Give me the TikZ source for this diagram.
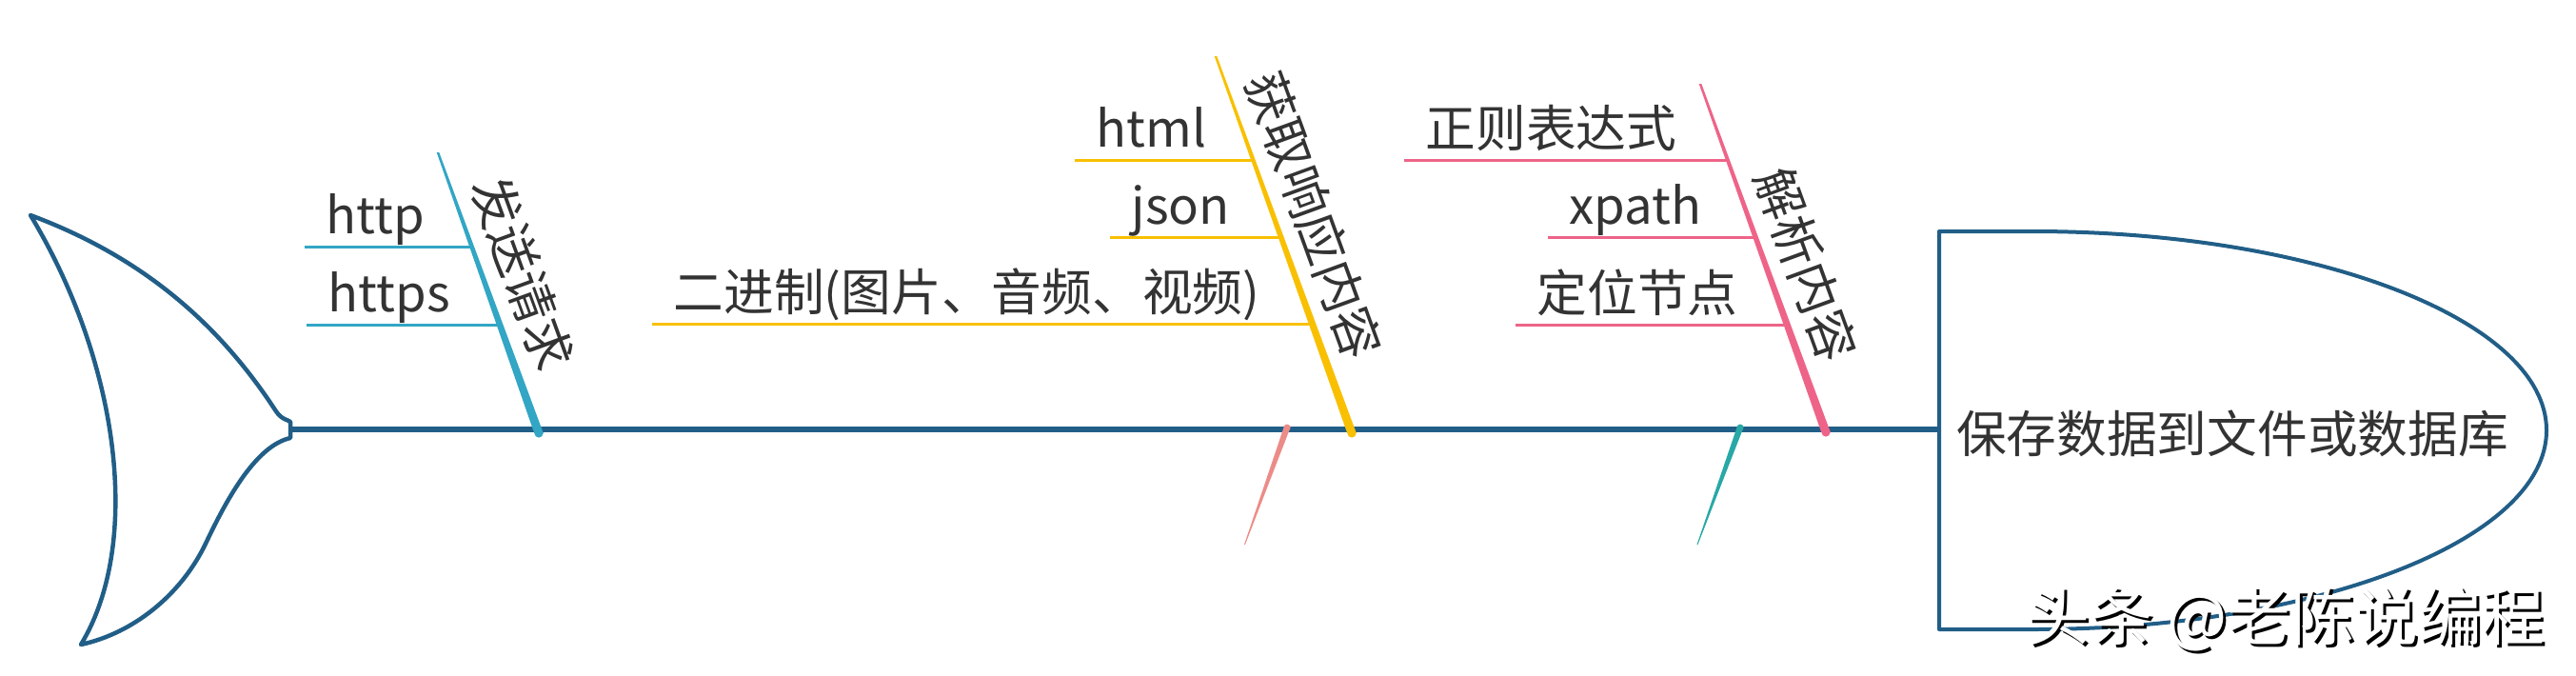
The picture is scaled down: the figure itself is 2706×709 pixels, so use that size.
\documentclass[tikz,border=0pt]{standalone}
\usepackage{fontspec}
\setmainfont{Noto Sans CJK SC}
\definecolor{spinec}{RGB}{33,94,135}
\definecolor{bblue}{RGB}{50,166,196}
\definecolor{byellow}{RGB}{248,192,0}
\definecolor{bpink}{RGB}{238,100,136}
\definecolor{spink}{RGB}{236,140,136}
\definecolor{steal}{RGB}{40,168,166}
\definecolor{txt}{RGB}{51,51,51}
\tikzset{
  fishline/.style={draw=spinec,line width=0.45mm,line join=round,line cap=round},
  spineline/.style={draw=spinec,line width=0.65mm},
  subline/.style={line width=0.3mm},
  itemtext/.style={anchor=base west,inner sep=0pt,text=txt,font=\fontsize{15}{18}\selectfont},
  cattext/.style={rotate=-70,inner sep=0pt,text=txt,font=\fontsize{15}{18}\selectfont},
}
\begin{document}
\begin{tikzpicture}[x=0.1mm,y=-0.1mm]
\useasboundingbox (0,0) rectangle (2706,709);
% tail
\draw[fishline] (32,226) .. controls (150,270) and (230,340) .. (290,432)
  .. controls (296,441) and (303,441) .. (305,443) -- (305,460)
  .. controls (270,468) and (240,520) .. (216,571)
  .. controls (190,625) and (140,665) .. (85,677)
  .. controls (150,570) and (125,380) .. (32,226) -- cycle;
% head
\draw[fishline,line width=0.4mm] (2037,451) -- (2037,243) -- (2135,243)
  .. controls (2433,243) and (2675,336.6) .. (2675,452)
  .. controls (2675,567.4) and (2433,661) .. (2135,661) -- (2037,661) -- cycle;
\node[inner sep=0pt,text=txt,font=\fontsize{15}{18}\selectfont] (head) at (2345,455) {保存数据到文件或数据库};
% spine
\coordinate (tailjoin) at (305,451);
\coordinate (headjoin) at (2037,451);
\draw[spineline] (tailjoin) -- (headjoin);
% small lower branches
\fill[spink] (1348.5,449) -- (1355.5,449) -- (1308,572) -- (1307,572) -- cycle;
\fill[spink] (1352,449) circle (3.5);
\fill[steal] (1824.5,449) -- (1831.5,449) -- (1783.5,572) -- (1782.5,572) -- cycle;
\fill[steal] (1828,449) circle (3.5);
% branch 1 (blue)
\fill[bblue] (458.7,160) -- (461.3,160) -- (570.8,455) -- (561.2,455) -- cycle;
\fill[bblue] (566,455) circle (4.6);
\draw[bblue,subline] (320,259) -- (496,259);
\draw[bblue,subline] (322,341) -- (525.5,341);
\node[itemtext] (http) at (342,245) {http};
\node[itemtext] (https) at (344,327) {https};
\node[cattext] (c1) at (549,287) {发送请求};
% branch 2 (yellow)
\fill[byellow] (1275.7,59) -- (1278.3,59) -- (1424.8,455) -- (1415.2,455) -- cycle;
\fill[byellow] (1420,455) circle (4.6);
\draw[byellow,subline] (1129,168) -- (1316.5,168);
\draw[byellow,subline] (1166,249) -- (1346,249);
\draw[byellow,subline] (685,340) -- (1379,340);
\node[itemtext] (html) at (1151,154) {html};
\node[itemtext] (json) at (1188,235) {json};
\node[itemtext] (bin) at (707,326) {二进制(图片、音频、视频)};
\node[cattext] (c2) at (1380,226) {获取响应内容};
% branch 3 (pink)
\fill[bpink] (1784.7,88) -- (1787.3,88) -- (1922.8,454) -- (1913.2,454) -- cycle;
\fill[bpink] (1918,454) circle (4.6);
\draw[bpink,subline] (1475,168) -- (1815,168);
\draw[bpink,subline] (1626,249) -- (1844,249);
\draw[bpink,subline] (1592,341) -- (1877.5,341);
\node[itemtext] (re) at (1497,154) {正则表达式};
\node[itemtext] (xp) at (1648,235) {xpath};
\node[itemtext] (loc) at (1614,327) {定位节点};
\node[cattext] (c3) at (1897,278) {解析内容};
% watermark
\node[inner sep=0pt,text=black,font=\fontsize{19}{22}\selectfont] (wmshadow) at (2404,653) {头条 @老陈说编程};
\node[inner sep=0pt,text=white,font=\fontsize{19}{22}\selectfont] (wm) at (2401,650) {头条 @老陈说编程};
\end{tikzpicture}
\end{document}
